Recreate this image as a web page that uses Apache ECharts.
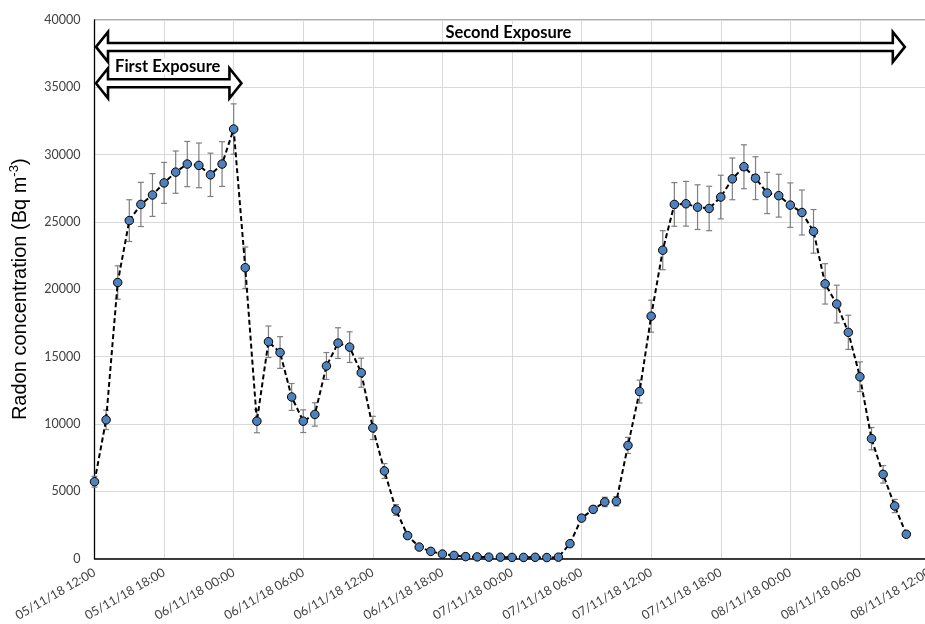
<!DOCTYPE html>
<html>
<head>
<meta charset="utf-8">
<script src="https://cdn.jsdelivr.net/npm/echarts@6/dist/echarts.min.js"></script>
<style>
  html, body { margin: 0; padding: 0; background: #fff; }
  #main { width: 925px; height: 624px; }
</style>
</head>
<body>
<div id="main"></div>
<script>
// Hourly radon readings from 05/11/18 12:00 onwards (Bq m-3)
const startTime = Date.UTC(2018, 10, 5, 12, 0);
const axisHours = 73; // 05/11/18 12:00 .. 08/11/18 12:00

const concentration = [
  5700, 10300, 20500, 25100, 26300, 27000, 27900, 28700, 29300, 29200, 28500, 29300, 31900,
  21600, 10200, 16100, 15300, 12000, 10200, 10700, 14300, 16000, 15700, 13800, 9700,
  6500, 3600, 1700, 850, 530, 330, 230, 140, 120, 100, 100, 80, 80, 90, 70, 100,
  1100, 3000, 3650, 4200, 4250, 8400, 12400, 18000,
  22900, 26300, 26350, 26100, 26000, 26850, 28200, 29100, 28250, 27150, 26950, 26250, 25700, 24300,
  20400, 18900, 16800, 13500, 8900, 6250, 3900, 1800
];

// Measurement uncertainty (+/-) for each reading
const uncertainty = [
  400, 720, 1240, 1550, 1640, 1590, 1520, 1570, 1680, 1660, 1610, 1660, 1870,
  1540, 860, 1170, 1180, 1000, 840, 870, 1000, 1140, 1140, 1080, 860,
  550, 400, 200, 110, 70, 50, 40, 30, 30, 25, 25, 20, 20, 20, 20, 25,
  120, 200, 250, 350, 350, 600, 850, 1190,
  1450, 1620, 1660, 1660, 1650, 1620, 1550, 1630, 1590, 1530, 1590, 1650, 1670, 1620,
  1500, 1400, 1270, 1100, 830, 650, 490, 200
];

// Exposure periods, in hours from the start of the record
const exposures = [
  { name: 'Second Exposure', from: 0, to: 70 },
  { name: 'First Exposure', from: 0, to: 12.8 }
];

const yTicks = { min: 0, max: 40000, step: 5000 };

function pad(n) { return (n < 10 ? '0' : '') + n; }
function stamp(ms) {
  const d = new Date(ms);
  return pad(d.getUTCDate()) + '/' + pad(d.getUTCMonth() + 1) + '/' +
    pad(d.getUTCFullYear() % 100) + ' ' + pad(d.getUTCHours()) + ':' + pad(d.getUTCMinutes());
}
const timeLabels = [];
for (let h = 0; h < axisHours; h++) timeLabels.push(stamp(startTime + h * 3600000));

const chart = echarts.init(document.getElementById('main'), null, { renderer: 'canvas' });

const labelFont = 'Lato, "Open Sans", sans-serif';

chart.setOption({
  animation: false,
  backgroundColor: '#fff',
  grid: {
    left: 94.5, top: 20, width: 835, height: 538.5,
    outerBoundsMode: 'none',
    containLabel: false,
    show: true, borderColor: '#595959', borderWidth: 1, backgroundColor: 'transparent'
  },
  xAxis: {
    type: 'category',
    data: timeLabels,
    boundaryGap: false,
    axisLine: { lineStyle: { color: '#000', width: 1.5 } },
    axisTick: { show: false },
    axisLabel: {
      interval: 5, rotate: 30, margin: 13,
      fontFamily: labelFont, fontSize: 12.5, color: '#404040'
    },
    splitLine: { show: true, interval: 5, lineStyle: { color: '#d9d9d9', width: 1 } }
  },
  yAxis: {
    type: 'value',
    min: yTicks.min, max: yTicks.max, interval: yTicks.step,
    name: '{a|Radon concentration (Bq m}{s|-3}{a|)}',
    nameLocation: 'middle',
    nameGap: 62,
    nameTextStyle: {
      rich: {
        a: { fontFamily: '"Liberation Sans", Arial, sans-serif', fontSize: 20, color: '#000' },
        s: { fontFamily: '"Liberation Sans", Arial, sans-serif', fontSize: 13, color: '#000', padding: [0, 0, 12, 0] }
      }
    },
    axisLine: { show: true, lineStyle: { color: '#000', width: 1.3 } },
    axisTick: { show: false },
    axisLabel: {
      margin: 14, fontFamily: labelFont, fontSize: 12.5, color: '#404040',
      formatter: v => String(v)
    },
    splitLine: { show: true, lineStyle: { color: '#d9d9d9', width: 1 } }
  },
  series: [
    {
      type: 'custom',
      name: 'uncertainty',
      z: 1,
      encode: { x: 0, y: [1, 2] },
      data: concentration.map((v, i) => [i, v - uncertainty[i], v + uncertainty[i]]),
      renderItem: function (params, api) {
        const i = api.value(0);
        const hi = api.coord([i, api.value(2)]);
        const lo = api.coord([i, api.value(1)]);
        const cap = 3;
        const st = { stroke: '#7f7f7f', lineWidth: 1.2 };
        return {
          type: 'group',
          children: [
            { type: 'line', shape: { x1: hi[0], y1: hi[1], x2: lo[0], y2: lo[1] }, style: st },
            { type: 'line', shape: { x1: hi[0] - cap, y1: hi[1], x2: hi[0] + cap, y2: hi[1] }, style: st },
            { type: 'line', shape: { x1: lo[0] - cap, y1: lo[1], x2: lo[0] + cap, y2: lo[1] }, style: st }
          ]
        };
      }
    },
    {
      type: 'line',
      name: 'Radon',
      z: 2,
      data: concentration,
      symbol: 'circle',
      symbolSize: 8.5,
      showAllSymbol: true,
      itemStyle: { color: '#4F81BD', borderColor: '#000', borderWidth: 1 },
      lineStyle: { color: '#000', width: 2, type: [5, 3] }
    }
  ]
});

// Double-headed block arrows marking the exposure periods
function blockArrow(x0, x1, yc, shaft, head, headLen) {
  return [
    [x0, yc], [x0 + headLen, yc - head], [x0 + headLen, yc - shaft],
    [x1 - headLen, yc - shaft], [x1 - headLen, yc - head], [x1, yc],
    [x1 - headLen, yc + head], [x1 - headLen, yc + shaft],
    [x0 + headLen, yc + shaft], [x0 + headLen, yc + head]
  ];
}

const px0 = chart.convertToPixel({ xAxisIndex: 0 }, 0);
const px1 = chart.convertToPixel({ xAxisIndex: 0 }, 1);
const hourPx = px1 - px0;
const hourToX = h => px0 + h * hourPx;

const arrowLevels = [38000, 35300];
const textLift = [14.5, 17];
const textShift = [8, -1];
const graphics = [];
exposures.forEach((e, k) => {
  const x0 = hourToX(e.from), x1 = hourToX(e.to);
  const yc = chart.convertToPixel({ yAxisIndex: 0 }, arrowLevels[k]);
  graphics.push({
    type: 'polygon', z: 100 + k * 2,
    shape: { points: blockArrow(x0 + 1.5, x1 - 1.5, yc, 4, 15, 12) },
    style: { fill: '#fff', stroke: '#000', lineWidth: 2.6, lineJoin: 'miter' }
  });
  graphics.push({
    type: 'text', z: 101 + k * 2,
    x: (x0 + x1) / 2 + textShift[k], y: yc - textLift[k],
    style: {
      text: e.name, fill: '#000',
      font: 'bold 16.5px Lato, "Open Sans", sans-serif',
      align: 'center', verticalAlign: 'middle',
      backgroundColor: '#fff', padding: [0, 2]
    }
  });
});
chart.setOption({ graphic: graphics });
</script>
</body>
</html>
